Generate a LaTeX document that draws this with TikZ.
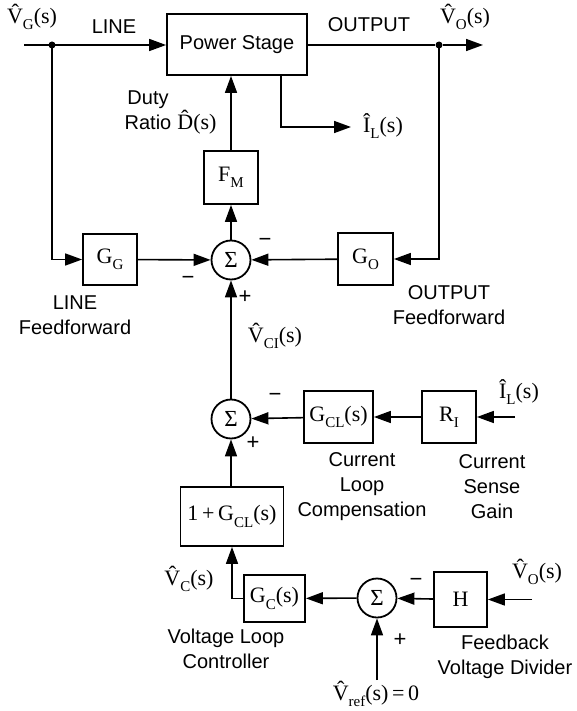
\documentclass[tikz,border=0pt]{standalone}
\usepackage{fontspec}
\setmainfont{Liberation Serif}
\setsansfont{Liberation Sans}
\usetikzlibrary{arrows.meta}
\newcommand\dn[1]{\raisebox{-0.28em}{\fontsize{15}{15}\selectfont #1}}
\newcommand\hv{\^{V}}
\tikzset{
  blk/.style={draw, line width=1.8pt, inner sep=0pt, font=\rmfamily\fontsize{22}{25}\selectfont},
  sumc/.style={circle, draw, line width=1.8pt, minimum size=39pt, inner sep=0pt, font=\rmfamily\fontsize{23}{25}\selectfont},
  wire/.style={line width=1.6pt},
  arr/.style={wire, -{Triangle[length=17pt,width=12pt]}},
  lab/.style={font=\sffamily\fontsize{20}{25}\selectfont, align=center, inner sep=0pt},
  mlab/.style={font=\rmfamily\fontsize{22}{25}\selectfont, inner sep=0pt},
  sgn/.style={font=\sffamily\fontsize{22}{22}\selectfont, inner sep=0pt},
  jdot/.style={circle, fill, inner sep=0pt, minimum size=7pt},
}
\begin{document}
\begin{tikzpicture}[x=1pt,y=-1pt]
\useasboundingbox (0,0) rectangle (576,711);
% blocks
\node[blk, minimum width=140pt, minimum height=61pt, font=\sffamily\fontsize{20}{25}\selectfont] (ps) at (237,44.5) {Power Stage};
\node[blk, minimum width=54pt, minimum height=53pt] (fm) at (231,177.5) {F\dn{M}};
\node[sumc] (s1) at (231,260) {Σ};
\node[blk, minimum width=54pt, minimum height=51pt] (gg) at (110,259.5) {G\dn{G}};
\node[blk, minimum width=55pt, minimum height=52pt] (go) at (365.5,259) {G\dn{O}};
\node[sumc] (s2) at (231,419) {Σ};
\node[blk, minimum width=69pt, minimum height=52pt] (gcl) at (338.5,417) {G\dn{CL}(s)};
\node[blk, minimum width=54pt, minimum height=52pt] (ri) at (449,417) {R\dn{I}};
\node[blk, minimum width=103pt, minimum height=59pt] (one) at (232,516.5) {1\,+\,G\dn{CL}(s)};
\node[blk, minimum width=61pt, minimum height=47pt] (gc) at (274.5,598.5) {G\dn{C}(s)};
\node[sumc] (s3) at (377,598) {Σ};
\node[blk, minimum width=53pt, minimum height=55pt] (h) at (460.5,599.5) {H};
% junctions and free ends
\coordinate (vgin) at (24,45);
\node[jdot] (jg) at (52,45) {};
\node[jdot] (jo) at (439,45) {};
\coordinate (voout) at (483,45);
\coordinate (ilx) at (281,0);
\coordinate (ilout) at (351,127);
\coordinate (ilin) at (515,417);
\coordinate (voin) at (532,599.5);
\coordinate (vref) at (377,680);
% connectors
\draw[arr] (vgin) -- (ps.west |- vgin);
\draw[wire] (ps.east |- jo) -- (jo);
\draw[arr] (jo) -- (voout);
\draw[arr] (jg.center) |- (gg.west);
\draw[arr] (jo.center) |- (go.east);
\draw[arr] (gg) -- (s1);
\draw[arr] (go) -- (s1);
\draw[arr] (s1) -- (fm);
\draw[arr] (fm) -- (ps.south -| fm);
\draw[arr] (ps.south -| ilx) |- (ilout);
\draw[arr] (s2) -- (s1);
\draw[arr] (ilin) -- (ri);
\draw[arr] (ri) -- (gcl);
\draw[arr] (gcl) -- (s2);
\draw[arr] (one.north -| s2) -- (s2);
\draw[arr] (gc.west) -| (one.south);
\draw[arr] (s3) -- (gc);
\draw[arr] (h) -- (s3);
\draw[arr] (voin) -- (h);
\draw[arr] (vref) -- (s3);
% labels
\node[mlab] (lvg) at (32,17) {\hv\dn{G}(s)};
\node[lab] (lline) at (114,27) {LINE};
\node[lab] (lout) at (369,25) {OUTPUT};
\node[mlab] (lvo) at (465,17) {\hv\dn{O}(s)};
\node[lab] (lduty) at (148,110) {Duty\\Ratio};
\node[mlab] (ld) at (197,122) {\^{D}(s)};
\node[mlab] (lil) at (383,126) {\^{I}\dn{L}(s)};
\node[lab] (llff) at (75,315.5) {LINE\\Feedforward};
\node[lab] (loff) at (449,305.5) {OUTPUT\\Feedforward};
\node[mlab] (lvci) at (275,336) {\hv\dn{CI}(s)};
\node[mlab] (lil2) at (519,392) {\^{I}\dn{L}(s)};
\node[lab] (lclc) at (362,487) {Current\\Loop\\Compensation};
\node[lab] (lcsg) at (492,487) {Current\\Sense\\Gain};
\node[mlab] (lvc) at (189,579) {\hv\dn{C}(s)};
\node[lab] (lvlc) at (226,648.5) {Voltage Loop\\Controller};
\node[lab] (lfvd) at (505,656.5) {Feedback\\Voltage Divider};
\node[mlab] (lvref) at (376,694) {\hv\dn{ref}(s)\,=\,0};
\node[mlab] (lvo2) at (537,572) {\hv\dn{O}(s)};
% signs
\node[sgn] (m1) at (265,242) {−};
\node[sgn] (m2) at (188,280) {−};
\node[sgn] (p1) at (245,297) {+};
\node[sgn] (m3) at (275,397) {−};
\node[sgn] (p2) at (253,443) {+};
\node[sgn] (m4) at (416,582) {−};
\node[sgn] (p3) at (400,640) {+};
\end{tikzpicture}
\end{document}
